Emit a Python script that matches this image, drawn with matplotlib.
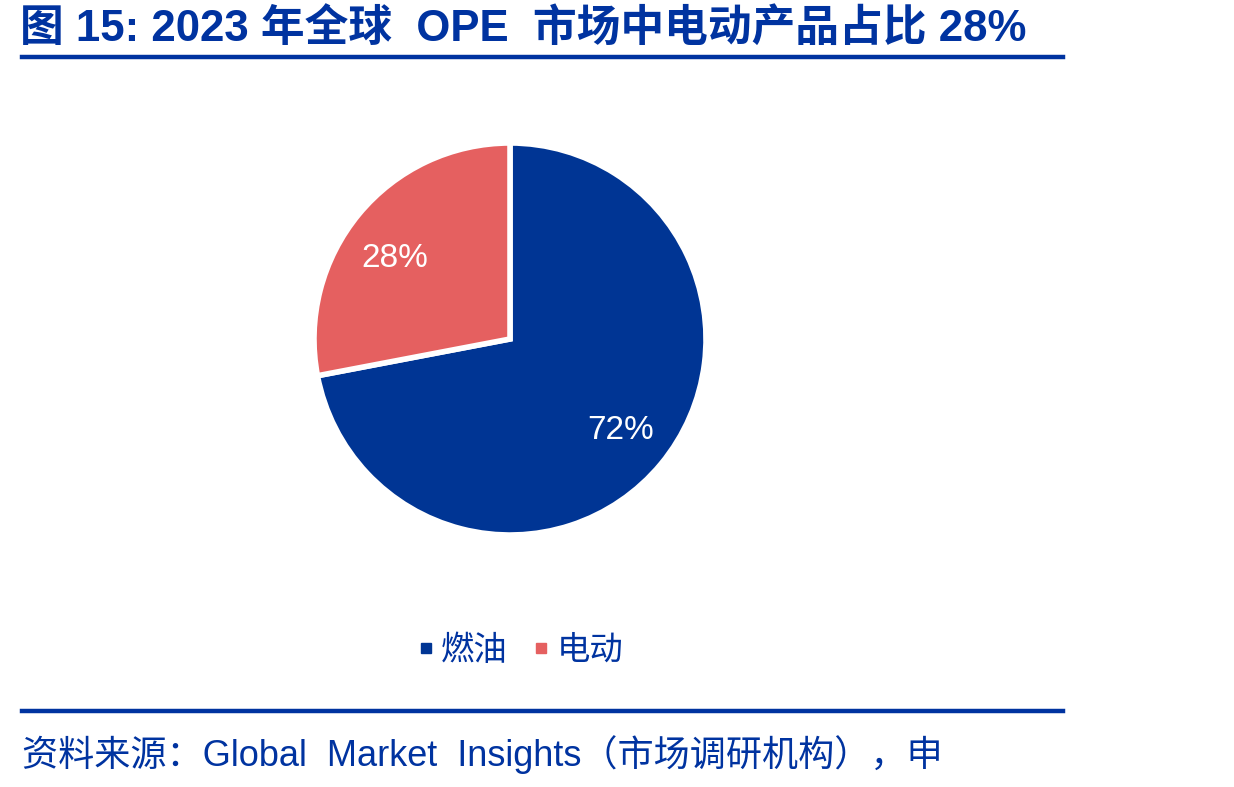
import numpy as np
import matplotlib.pyplot as plt
from matplotlib.lines import Line2D

# 字体：英文用 Liberation Sans，中文回退到 Noto Sans CJK SC
plt.rcParams['font.family'] = ['Liberation Sans', 'Noto Sans CJK SC']

labels = ['燃油', '电动']
shares = [72, 28]
colors = ['#003594', '#E56060']
title = '图 15: 2023 年全球  OPE  市场中电动产品占比 28%'
source = '资料来源：Global  Market  Insights（市场调研机构），申'
navy = '#0033A0'

W, H = 1234, 787
fig = plt.figure(figsize=(W / 100, H / 100), dpi=100)

# 饼图区域（按像素定位）
cx, cy, r = 510, 339, 196
ax = fig.add_axes([(cx - r) / W, (H - cy - r) / H, 2 * r / W, 2 * r / H])
wedges, _, autotexts = ax.pie(
    shares, colors=colors, startangle=90, counterclock=False,
    autopct='%d%%', pctdistance=0.73,
    wedgeprops=dict(edgecolor='white', linewidth=4),
    textprops=dict(color='white', fontsize=24))
# 电动标签稍微偏下一点，和原图一致
a = np.deg2rad(145)
autotexts[1].set_position((0.72 * np.cos(a), 0.72 * np.sin(a)))
ax.set_xlim(-1.0, 1.0)
ax.set_ylim(-1.0, 1.0)
ax.set_aspect('equal')
ax.axis('off')

# 标题与分隔线
fig.text(20 / W, 1 - 29 / H, title, fontsize=31.5, fontweight='bold',
         color=navy, ha='left', va='center')
fig.add_artist(Line2D([22 / W, 1063 / W], [1 - 57 / H, 1 - 57 / H],
                      color=navy, linewidth=3.2))
fig.add_artist(Line2D([22 / W, 1063 / W], [1 - 711 / H, 1 - 711 / H],
                      color=navy, linewidth=3.2))
fig.text(22 / W, 1 - 755 / H, source, fontsize=26, color=navy,
         ha='left', va='center')

# 图例
handles = [Line2D([], [], marker='s', linestyle='', markersize=7,
                  markerfacecolor=c, markeredgecolor=c) for c in colors]
leg = fig.legend(handles, labels, loc='center', bbox_to_anchor=(518 / W, 1 - 651 / H),
                 ncol=2, frameon=False, fontsize=24, handletextpad=0.05,
                 columnspacing=0.6, handlelength=0.8)
for t in leg.get_texts():
    t.set_color(navy)

fig.savefig('out.png', dpi=100)
